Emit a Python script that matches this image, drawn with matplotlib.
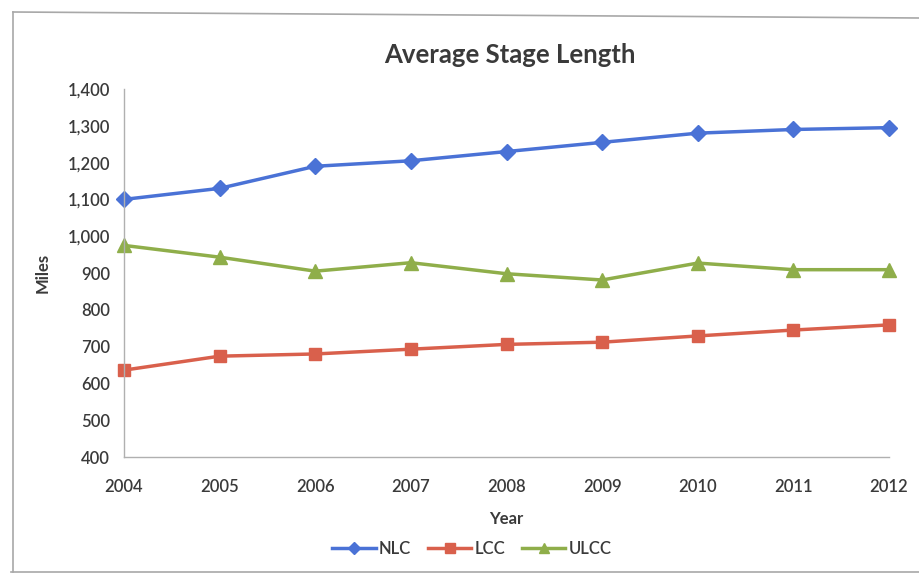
import matplotlib
matplotlib.use("Agg")
import matplotlib.pyplot as plt
from matplotlib.ticker import FuncFormatter
from matplotlib.lines import Line2D

years = [2004, 2005, 2006, 2007, 2008, 2009, 2010, 2011, 2012]
nlc = [1100, 1130, 1190, 1205, 1230, 1255, 1280, 1290, 1295]
lcc = [636, 674, 680, 693, 706, 712, 729, 745, 759]
ulcc = [975, 943, 905, 928, 898, 881, 927, 909, 909]
yticks = [400, 500, 600, 700, 800, 900, 1000, 1100, 1200, 1300, 1400]

plt.rcParams['font.family'] = ['Lato', 'DejaVu Sans']
txt = '#3a3a3a'

fig = plt.figure(figsize=(9.19, 5.75), dpi=100)
W, H = 919, 575
ax = fig.add_axes([124 / W, 1 - 457 / H, (889 - 124) / W, (457 - 89) / H])

# outer chart border (left, top, bottom visible; right edge is cut off)
border = dict(transform=fig.transFigure, color='#a8a8a8', linewidth=1.2)
fig.lines.append(Line2D([13 / W, 13 / W], [1 - 12 / H, 1 - 572 / H], **border))
fig.lines.append(Line2D([13 / W, 1.0], [1 - 12 / H, 1 - 18 / H], **border))
fig.lines.append(Line2D([11 / W, 1.0], [1 - 572 / H, 1 - 572 / H], **border))

ax.plot(years, nlc, color='#4a72d6', marker='D', markersize=8, linewidth=2.5, label='NLC', clip_on=False)
ax.plot(years, lcc, color='#d9604c', marker='s', markersize=9, linewidth=2.5, label='LCC', clip_on=False)
ax.plot(years, ulcc, color='#8fae4a', marker='^', markersize=10, linewidth=2.5, label='ULCC', clip_on=False)

ax.set_xlim(2004, 2012)
ax.set_ylim(400, 1400)
ax.set_xticks(years)
ax.set_yticks(yticks)
ax.yaxis.set_major_formatter(FuncFormatter(lambda v, p: f'{int(v):,}'))
ax.tick_params(length=0, labelsize=12, colors=txt, pad=10)
ax.tick_params(axis='x', pad=16)
for lab in ax.get_xticklabels() + ax.get_yticklabels():
    lab.set_fontweight('semibold')
for s in ['top', 'right']:
    ax.spines[s].set_visible(False)
for s in ['left', 'bottom']:
    ax.spines[s].set_color('#b0b0b0')
    ax.spines[s].set_linewidth(1.0)

ax.set_ylabel('Miles', fontsize=12, fontweight='bold', color=txt, labelpad=12)
ax.set_xlabel('Year', fontsize=12, fontweight='bold', color=txt, labelpad=11)
fig.text(510 / W, 1 - 55 / H, 'Average Stage Length', ha='center', va='center',
         fontsize=18.5, fontweight='bold', color=txt)

leg = fig.legend(loc='center', bbox_to_anchor=(472 / W, 1 - 549 / H), ncol=3, frameon=False,
                 fontsize=12, labelcolor=txt, handlelength=2.6, handletextpad=0.2,
                 columnspacing=1.0, markerscale=0.75)
for t in leg.get_texts():
    t.set_fontweight('semibold')

fig.savefig('out.png', dpi=100)
